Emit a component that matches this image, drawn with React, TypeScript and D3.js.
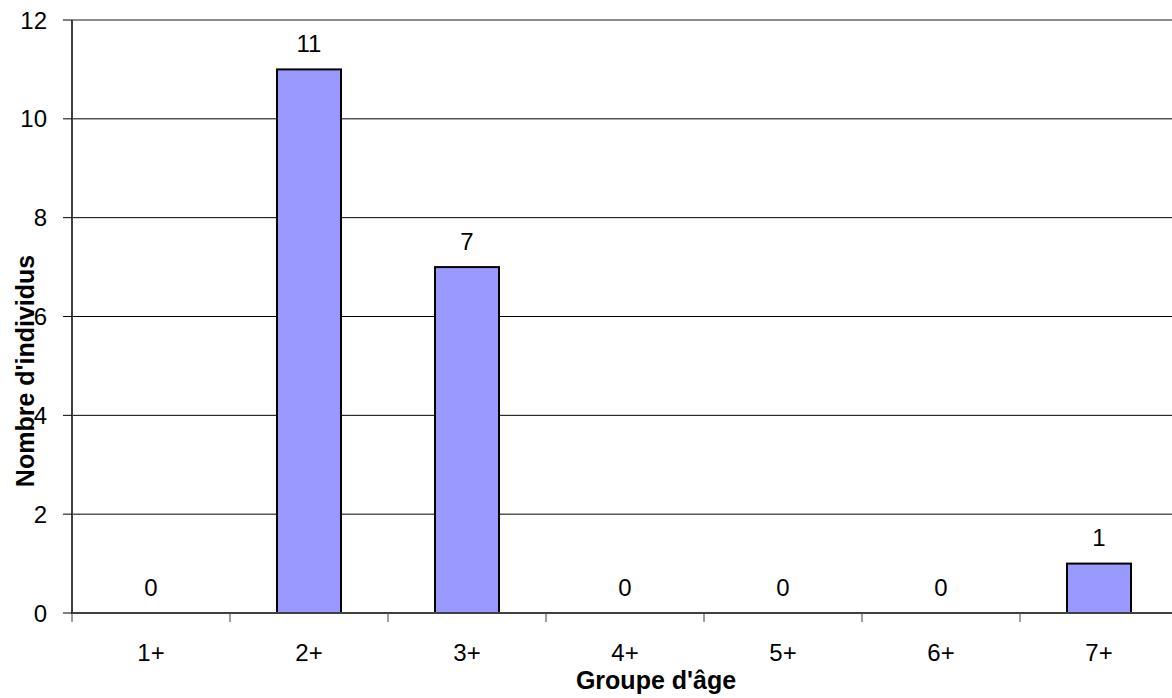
import React from "react";
import * as d3 from "d3";

const categories: string[] = ["1+", "2+", "3+", "4+", "5+", "6+", "7+"];
const counts: number[] = [0, 11, 7, 0, 0, 0, 1];
const yTicks: number[] = [0, 2, 4, 6, 8, 10, 12];

const W = 1172;
const H = 698;
const left = 72;
const right = 1178;
const top = 20;
const bottom = 613;
const font = "Liberation Sans, Arial, sans-serif";

export default function App() {
  const x = d3.scaleBand<string>().domain(categories).range([left, right]).paddingInner(0).paddingOuter(0);
  const y = d3.scaleLinear().domain([0, 12]).range([bottom, top]);
  const bw = x.bandwidth();
  const barW = bw * 0.405;

  return (
    <svg width={W} height={H} style={{ position: "absolute", left: 0, top: 0, background: "#fff" }}>
      {/* gridlines */}
      {yTicks.filter((t) => t > 0 && t < 12).map((t) => (
        <line key={t} x1={left} x2={right} y1={y(t)} y2={y(t)} stroke="#000" strokeWidth={1} />
      ))}
      {/* top plot border */}
      <line x1={left} x2={right} y1={y(12)} y2={y(12)} stroke="#8c8c8c" strokeWidth={2} />
      {/* bars */}
      {categories.map((c, i) =>
        counts[i] > 0 ? (
          <rect
            key={c}
            x={(x(c) as number) + bw / 2 - barW / 2}
            y={y(counts[i])}
            width={barW}
            height={y(0) - y(counts[i])}
            fill="#9999FF"
            stroke="#000"
            strokeWidth={2}
          />
        ) : null
      )}
      {/* axes */}
      <line x1={left} x2={left} y1={top} y2={bottom + 1} stroke="#404040" strokeWidth={2} />
      <line x1={left} x2={right} y1={bottom} y2={bottom} stroke="#404040" strokeWidth={2} />
      {yTicks.map((t) => (
        <g key={t}>
          <line x1={left - 9} x2={left} y1={y(t)} y2={y(t)} stroke="#000" strokeWidth={1} />
          <text x={47} y={y(t)} dy="0.36em" textAnchor="end" fontFamily={font} fontSize={24} fill="#000">
            {t}
          </text>
        </g>
      ))}
      {categories.map((c, i) => (
        <g key={c}>
          <line x1={x(c) as number} x2={x(c) as number} y1={bottom} y2={bottom + 9} stroke="#404040" strokeWidth={1} />
          <text x={(x(c) as number) + bw / 2} y={661} textAnchor="middle" fontFamily={font} fontSize={24} fill="#000">
            {c}
          </text>
          <text x={(x(c) as number) + bw / 2} y={y(counts[i]) - 26} dy="0.36em" textAnchor="middle" fontFamily={font} fontSize={24} fill="#000">
            {counts[i]}
          </text>
        </g>
      ))}
      <text x={656} y={689} textAnchor="middle" fontFamily={font} fontSize={25} fontWeight="bold" fill="#000">
        Groupe d'âge
      </text>
      <text
        transform={`translate(34,${371}) rotate(-90)`}
        textAnchor="middle"
        fontFamily={font}
        fontSize={25}
        fontWeight="bold"
        fill="#000"
      >
        Nombre d'individus
      </text>
    </svg>
  );
}
